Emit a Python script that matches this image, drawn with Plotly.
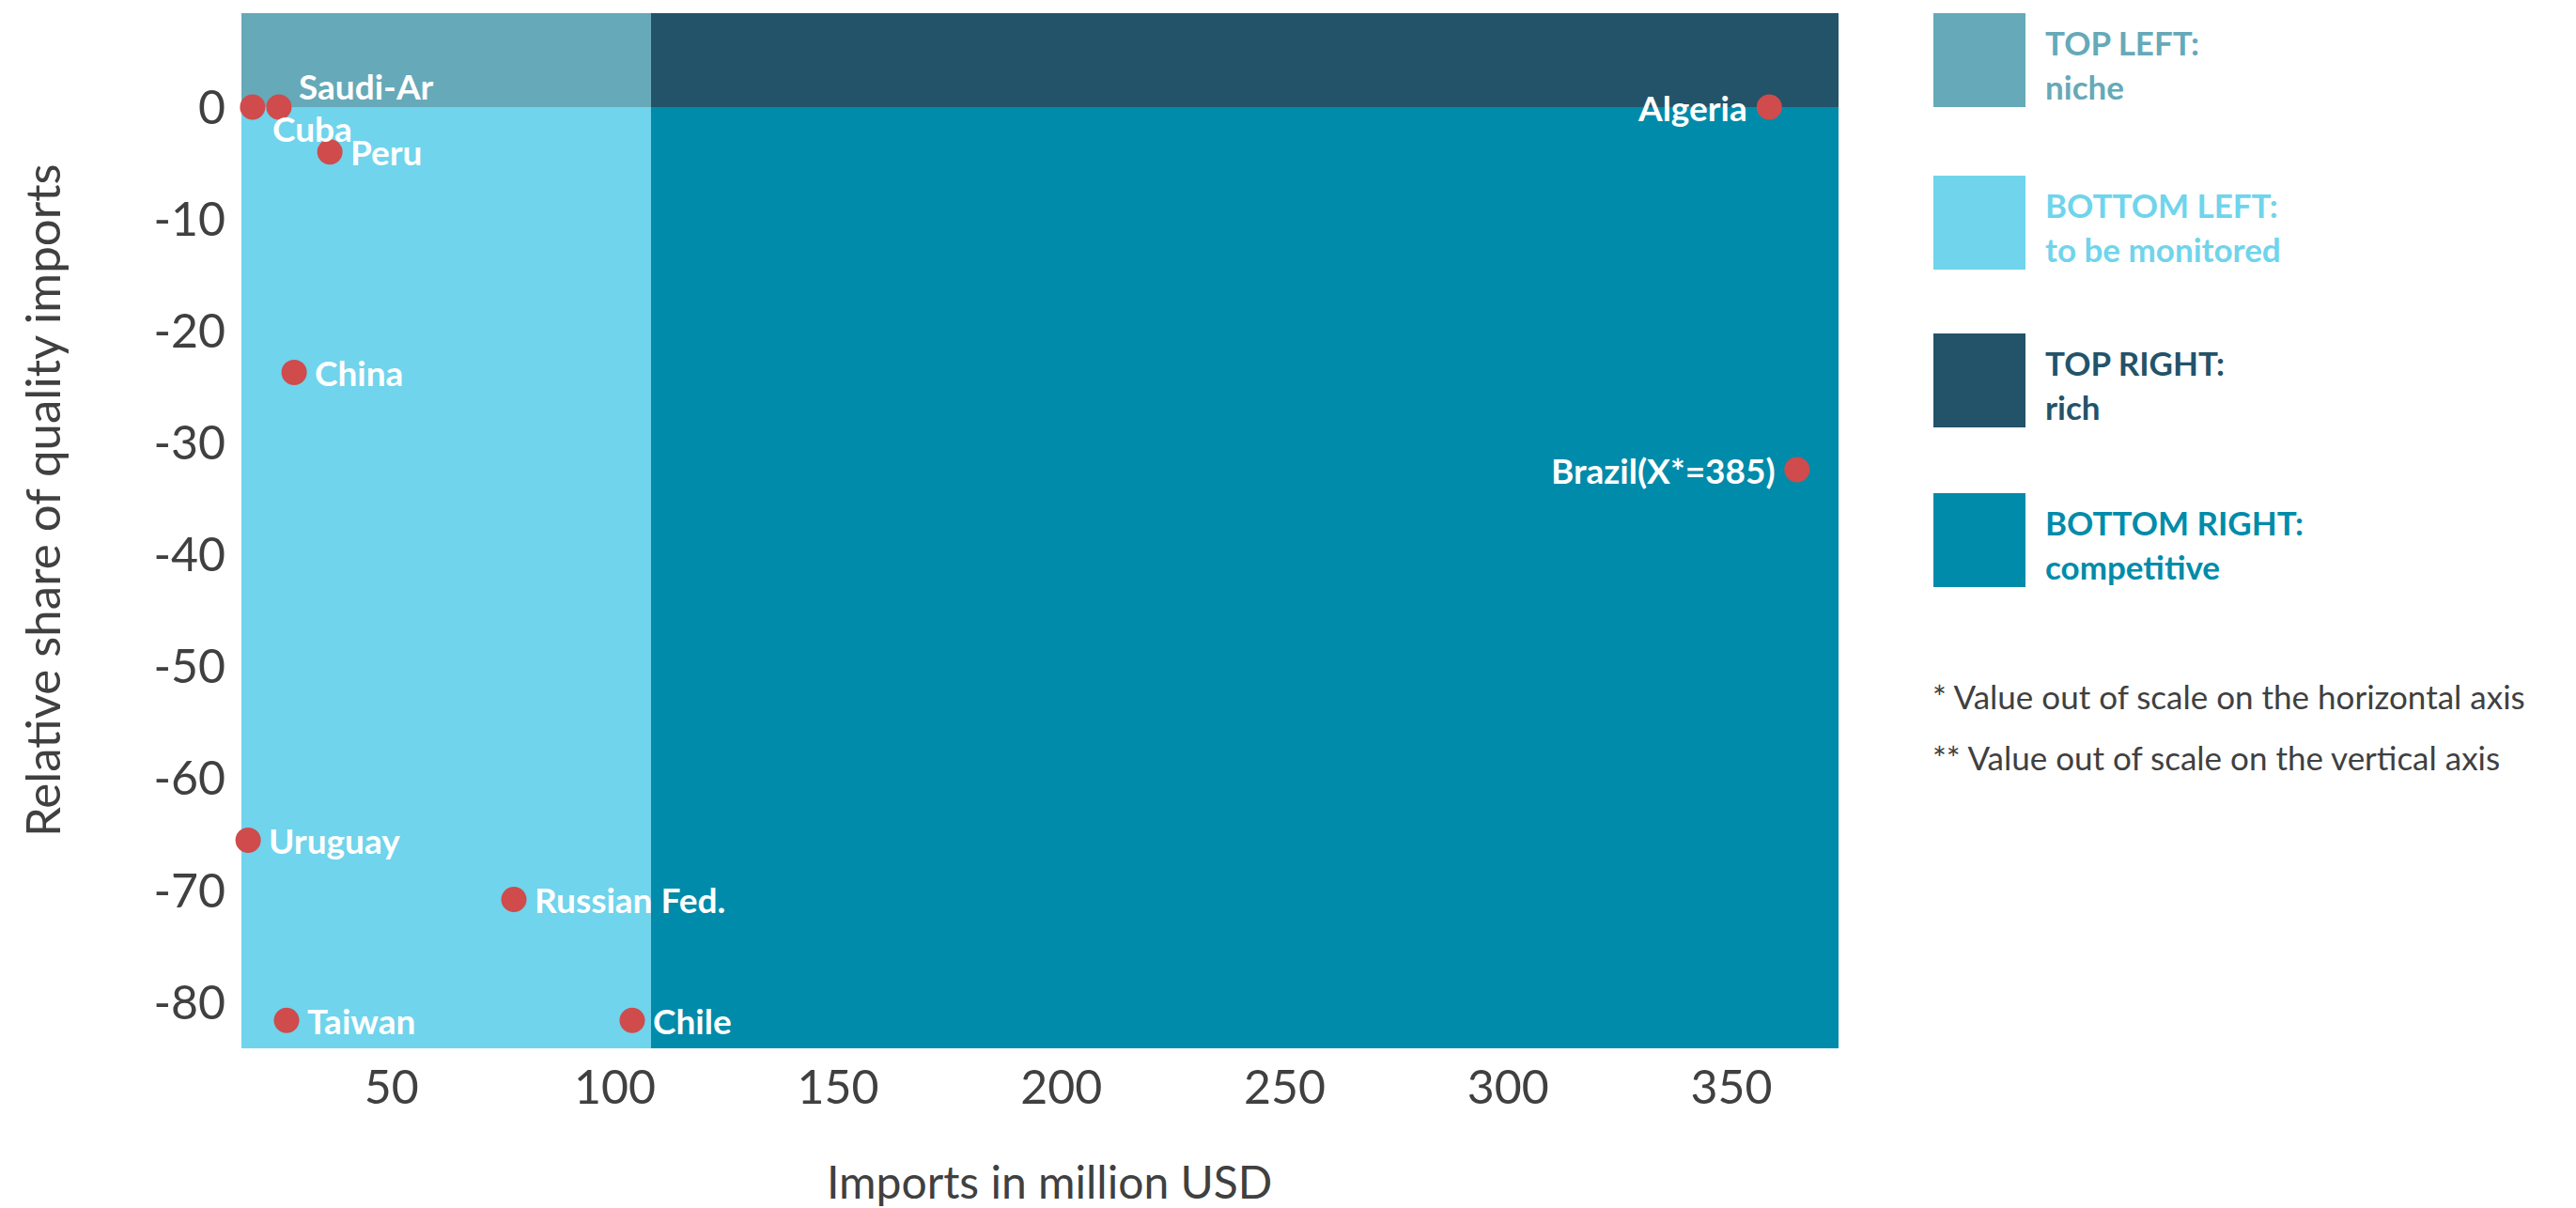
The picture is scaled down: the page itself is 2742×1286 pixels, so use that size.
import plotly.graph_objects as go

# ---------------- data ----------------
countries = ["Saudi-Ar", "Cuba", "Peru", "China", "Uruguay", "Russian Fed.",
             "Taiwan", "Chile", "Algeria", "Brazil(X*=385)"]
imports_musd = [24.8, 18.9, 36.2, 28.2, 17.9, 77.4, 26.5, 103.9, 358.5, 364.7]
rel_share = [0.0, 0.0, -4.0, -23.7, -65.5, -70.8, -81.6, -81.6, 0.0, -32.4]

x_ticks = [50, 100, 150, 200, 250, 300, 350]
y_ticks = [0, -10, -20, -30, -40, -50, -60, -70, -80]
x_range = [16.4, 374.0]
y_range = [-84.1, 8.4]
x_split = 108.1
y_split = 0.0

quadrant_names = ["TOP LEFT:", "BOTTOM LEFT:", "TOP RIGHT:", "BOTTOM RIGHT:"]
quadrant_desc = ["niche", "to be monitored", "rich", "competitive"]
footnotes = ["* Value out of scale on the horizontal axis",
             "** Value out of scale on the vertical axis"]

# ---------------- style ----------------
PAGE_W, PAGE_H = 2742, 1286
OFF = 8  # default page body margin
W, H = PAGE_W - OFF, PAGE_H - OFF
L, R, T, B = 257, 1957, 14, 1116   # plot area in page pixels
FONT = "Lato, 'Source Sans Pro', sans-serif"
C_TL, C_BL, C_TR, C_BR = "#66a9b8", "#6fd4ec", "#235369", "#018baa"
quad_colors = [C_TL, C_BL, C_TR, C_BR]
DOT = "#d04b4c"
GREY = "#404040"

# label placement (anchor side, x shift px, y shift px)
label_place = {
    "Saudi-Ar": ("left", 19, 23),
    "Cuba": ("left", 19, -22),
    "Algeria": ("right", -21, 0),
    "Brazil(X*=385)": ("right", -21, 0),
}


def px_x(p):
    return (p - L) / (R - L)


def px_y(p):
    return (B - p) / (B - T)


fig = go.Figure()

quads = [
    (x_range[0], x_split, y_split, y_range[1], C_TL),
    (x_range[0], x_split, y_range[0], y_split, C_BL),
    (x_split, x_range[1], y_split, y_range[1], C_TR),
    (x_split, x_range[1], y_range[0], y_split, C_BR),
]
for x0, x1, y0, y1, c in quads:
    fig.add_shape(type="rect", xref="x", yref="y", x0=x0, x1=x1, y0=y0, y1=y1,
                  fillcolor=c, line=dict(width=0), layer="below")

fig.add_trace(go.Scatter(
    x=imports_musd, y=rel_share, mode="markers",
    marker=dict(size=27, color=DOT, line=dict(width=0)),
    hovertext=countries, hoverinfo="text", showlegend=False, cliponaxis=False,
))

for name, xv, yv in zip(countries, imports_musd, rel_share):
    side, dx, dy = label_place.get(name, ("left", 20, 0))
    fig.add_annotation(x=xv, y=yv, xref="x", yref="y", text="<b>%s</b>" % name,
                       showarrow=False, xanchor=side, yanchor="middle",
                       xshift=dx, yshift=dy,
                       font=dict(family=FONT, size=37, color="white"))

box_tops = [14, 187, 355, 525]
box_h = 100
for top, c, nm, ds in zip(box_tops, quad_colors, quadrant_names, quadrant_desc):
    fig.add_shape(type="rect", xref="paper", yref="paper",
                  x0=px_x(2058), x1=px_x(2156), y0=px_y(top + box_h), y1=px_y(top),
                  fillcolor=c, line=dict(width=0))
    fig.add_annotation(xref="paper", yref="paper", x=px_x(2175), y=px_y(top + 31),
                       text="<b>%s</b>" % nm, showarrow=False, xanchor="left",
                       yanchor="middle", font=dict(family=FONT, size=35, color=c))
    fig.add_annotation(xref="paper", yref="paper", x=px_x(2175), y=px_y(top + 78),
                       text="<b>%s</b>" % ds, showarrow=False, xanchor="left",
                       yanchor="middle", font=dict(family=FONT, size=35, color=c))

for i, fn in enumerate(footnotes):
    fig.add_annotation(xref="paper", yref="paper", x=px_x(2055), y=px_y(741 + 65 * i),
                       text=fn, showarrow=False, xanchor="left", yanchor="middle",
                       font=dict(family=FONT, size=35, color=GREY))

fig.add_annotation(xref="paper", yref="paper", x=px_x(1117), y=px_y(1257),
                   text="Imports in million USD", showarrow=False,
                   xanchor="center", yanchor="middle",
                   font=dict(family=FONT, size=48, color=GREY))
fig.add_annotation(xref="paper", yref="paper", x=px_x(44), y=px_y(533),
                   text="Relative share of quality imports", showarrow=False,
                   textangle=-90, xanchor="center", yanchor="middle",
                   font=dict(family=FONT, size=51, color=GREY))

fig.update_xaxes(range=x_range, tickvals=x_ticks, ticktext=[str(v) for v in x_ticks],
                 showgrid=False, zeroline=False, showline=False, ticks="",
                 tickfont=dict(family=FONT, size=50, color=GREY), ticklabelstandoff=8)
fig.update_yaxes(range=y_range, tickvals=y_ticks, ticktext=[str(v) for v in y_ticks],
                 showgrid=False, zeroline=False, showline=False, ticks="",
                 tickfont=dict(family=FONT, size=50, color=GREY), ticklabelstandoff=16)

fig.update_layout(
    width=W, height=H,
    margin=dict(l=L - OFF, r=PAGE_W - R, t=T - OFF, b=PAGE_H - B, pad=0),
    plot_bgcolor="white", paper_bgcolor="white",
    font=dict(family=FONT, color=GREY),
    showlegend=False,
)

fig.write_html("out.html")
